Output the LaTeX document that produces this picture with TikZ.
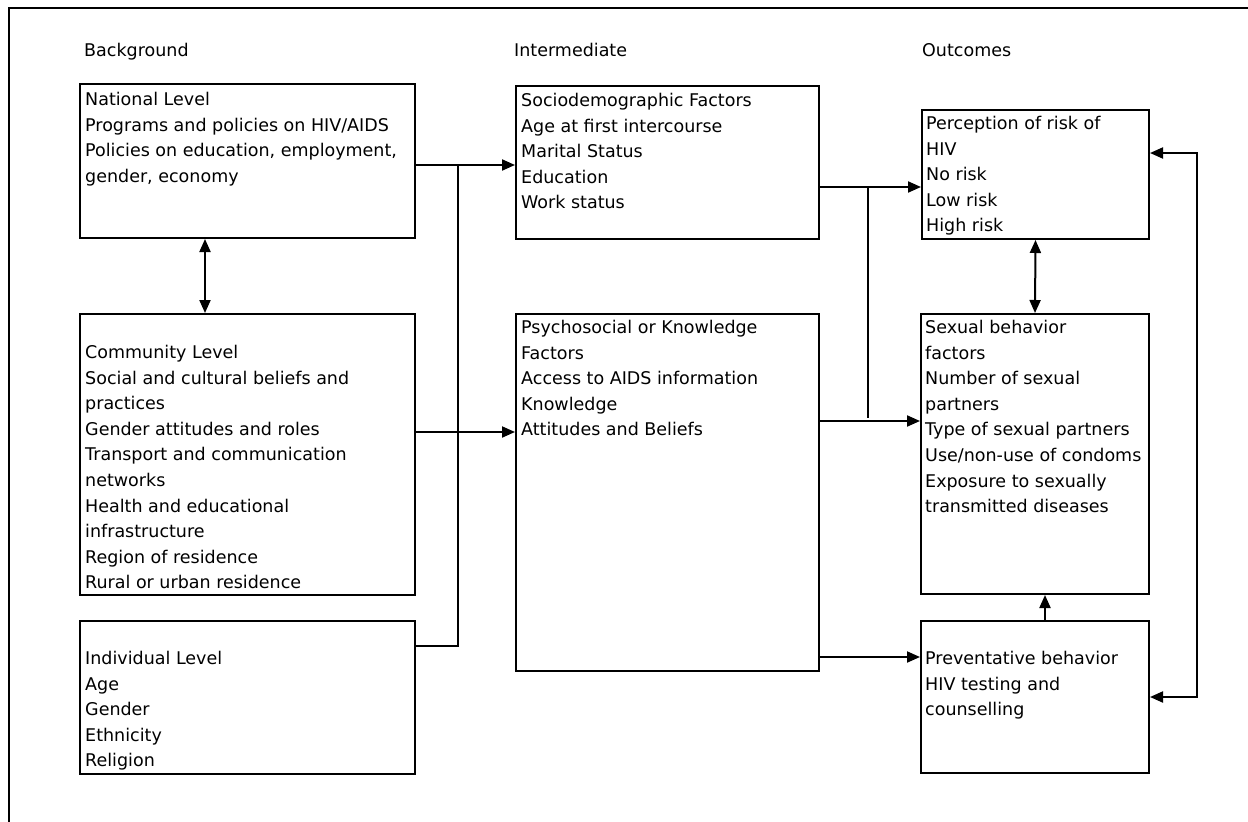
\documentclass[tikz,border=0pt]{standalone}
\usepackage{fontspec}
\setmainfont{DejaVu Sans}
\usetikzlibrary{arrows.meta, positioning, calc}

\tikzset{
  panel/.style={draw, line width=2pt, anchor=north west, inner sep=0pt},
  entry/.style={anchor=north west, align=left, inner sep=0pt, font=\fontsize{17.5}{25.6}\selectfont},
  heading/.style={anchor=base west, inner sep=0pt, font=\fontsize{17.5}{25.6}\selectfont},
  wire/.style={line width=2pt},
  link/.style={wire, -{Triangle[length=13pt,width=11pt]}},
  twoway/.style={wire, {Triangle[length=13pt,width=11pt]}-{Triangle[length=13pt,width=11pt]}},
}

\begin{document}
\begin{tikzpicture}[x=1pt, y=-1pt]
    % Setup
    \useasboundingbox (0,0) rectangle (1248,822);
    \draw[wire] (9,8) rectangle (1270,840);

    % Column headings
    \node[heading] (hBack) at (84,56) {Background};
    \node[heading] (hInter) at (514,56) {Intermediate};
    \node[heading] (hOut) at (922,56) {Outcomes};

    % --- Background ---
    \node[panel, minimum width=335pt, minimum height=154pt] (nat) at (79,83) {};
    \node[entry] (natT) at ([xshift=6pt, yshift=-9pt]nat.north west)
        {National Level\\Programs and policies on HIV/AIDS\\Policies on education, employment,\\gender, economy};

    \node[panel, minimum width=335pt, minimum height=281pt] (com) at (79,313) {};
    \node[entry] (comT) at ([xshift=6pt, yshift=-32pt]com.north west)
        {Community Level\\Social and cultural beliefs and\\practices\\Gender attitudes and roles\\Transport and communication\\networks\\Health and educational\\infrastructure\\Region of residence\\Rural or urban residence};

    \node[panel, minimum width=335pt, minimum height=153pt] (ind) at (79,620) {};
    \node[entry] (indT) at ([xshift=6pt, yshift=-31pt]ind.north west)
        {Individual Level\\Age\\Gender\\Ethnicity\\Religion};

    % --- Intermediate ---
    \node[panel, minimum width=303pt, minimum height=153pt] (soc) at (515,85) {};
    \node[entry] (socT) at ([xshift=6pt, yshift=-8pt]soc.north west)
        {Sociodemographic Factors\\Age at first intercourse\\Marital Status\\Education\\Work status};

    \node[panel, minimum width=303pt, minimum height=357pt] (psy) at (515,313) {};
    \node[entry] (psyT) at ([xshift=6pt, yshift=-7pt]psy.north west)
        {Psychosocial or Knowledge\\Factors\\Access to AIDS information\\Knowledge\\Attitudes and Beliefs};

    % --- Outcomes ---
    \node[panel, minimum width=227pt, minimum height=129pt] (per) at (921,109) {};
    \node[entry] (perT) at ([xshift=5pt, yshift=-7pt]per.north west)
        {Perception of risk of\\HIV\\No risk\\Low risk\\High risk};

    \node[panel, minimum width=228pt, minimum height=280pt] (sex) at (920,313) {};
    \node[entry] (sexT) at ([xshift=5pt, yshift=-7pt]sex.north west)
        {Sexual behavior\\factors\\Number of sexual\\partners\\Type of sexual partners\\Use/non-use of condoms\\Exposure to sexually\\transmitted diseases};

    \node[panel, minimum width=228pt, minimum height=152pt] (pre) at (920,620) {};
    \node[entry] (preT) at ([xshift=5pt, yshift=-31pt]pre.north west)
        {Preventative behavior\\HIV testing and\\counselling};

    % Junction points
    \coordinate (jNat) at (458,165);
    \coordinate (jInd) at (458,646);
    \coordinate (yCom) at (0,432);
    \coordinate (jSoc) at (868,187);
    \coordinate (jPsy) at (868,418);
    \coordinate (ySex) at (0,421);
    \coordinate (yPre) at (0,657);
    \coordinate (fbTop) at (1197,153);
    \coordinate (fbBot) at (1197,697);

    % --- Connectors ---
    \draw[twoway] ([xshift=126pt]nat.south west) -- ([xshift=126pt]com.north west);
    \draw[link] (nat.east |- jNat) -- (soc.west |- jNat);
    \draw[wire] (ind.east |- jInd) -- (jInd) -- (jNat);
    \draw[link] (com.east |- yCom) -- (psy.west |- yCom);

    \draw[link] (soc.east |- jSoc) -- (per.west |- jSoc);
    \draw[wire] (jSoc) -- (jPsy);
    \draw[link] (psy.east |- ySex) -- (sex.west |- ySex);
    \draw[link] (psy.east |- yPre) -- (pre.west |- yPre);

    \draw[twoway] (per.south) -- (sex.north);
    \draw[link] ([xshift=10pt]pre.north) -- ([xshift=10pt]sex.south);
    \draw[twoway] (per.east |- fbTop) -- (fbTop) -- (fbBot) -- (pre.east |- fbBot);

\end{tikzpicture}
\end{document}
